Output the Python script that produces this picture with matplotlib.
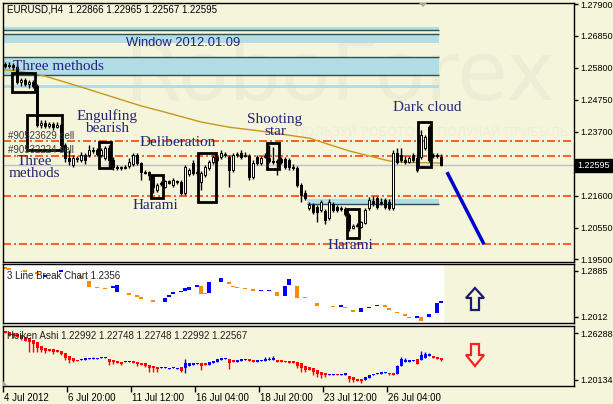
import matplotlib
matplotlib.use("Agg")
import matplotlib.pyplot as plt
import matplotlib.transforms as mtransforms
from matplotlib.patches import Rectangle, Polygon
import pandas as pd

W, H = 613, 404
BG = "#f5f5dc"
NAVY = "#23237a"
plt.rcParams['font.family'] = ['Liberation Sans', 'DejaVu Sans']

# EURUSD H4 candles
c_open = [1.2593, 1.2586, 1.2589, 1.2583, 1.2533, 1.2540, 1.2527, 1.2533, 1.2520, 1.2392,
          1.2399, 1.2389, 1.2395, 1.2385, 1.2392, 1.2326, 1.2283, 1.2260, 1.2283, 1.2277,
          1.2293, 1.2293, 1.2310, 1.2310, 1.2293, 1.2283, 1.2316, 1.2277, 1.2254, 1.2250,
          1.2254, 1.2257, 1.2264, 1.2293, 1.2267, 1.2237, 1.2237, 1.2224, 1.2178, 1.2201,
          1.2188, 1.2208, 1.2195, 1.2208, 1.2204, 1.2168, 1.2231, 1.2267, 1.2237, 1.2204,
          1.2227, 1.2250, 1.2270, 1.2277, 1.2287, 1.2297, 1.2287, 1.2244, 1.2293, 1.2300,
          1.2290, 1.2290, 1.2221, 1.2287, 1.2267, 1.2287, 1.2283, 1.2273, 1.2270, 1.2280,
          1.2280, 1.2277, 1.2254, 1.2250, 1.2195, 1.2168, 1.2119, 1.2129, 1.2122, 1.2112,
          1.2109, 1.2086, 1.2132, 1.2122, 1.2119, 1.2116, 1.2096, 1.2053, 1.2060, 1.2056,
          1.2070, 1.2119, 1.2142, 1.2152, 1.2135, 1.2145, 1.2139, 1.2119, 1.2300, 1.2293,
          1.2277, 1.2270, 1.2293, 1.2283, 1.2287, 1.2316, 1.2385, 1.2290, 1.2293, 1.22866]
c_high = [1.2599, 1.2599, 1.2596, 1.2589, 1.2547, 1.2547, 1.2540, 1.2540, 1.2527, 1.2408,
          1.2408, 1.2402, 1.2402, 1.2402, 1.2399, 1.2333, 1.2310, 1.2293, 1.2290, 1.2303,
          1.2300, 1.2326, 1.2320, 1.2316, 1.2316, 1.2323, 1.2326, 1.2287, 1.2260, 1.2257,
          1.2260, 1.2283, 1.2300, 1.2300, 1.2270, 1.2244, 1.2241, 1.2227, 1.2201, 1.2208,
          1.2211, 1.2211, 1.2218, 1.2211, 1.2211, 1.2260, 1.2250, 1.2277, 1.2244, 1.2241,
          1.2260, 1.2277, 1.2293, 1.2293, 1.2310, 1.2303, 1.2293, 1.2300, 1.2303, 1.2310,
          1.2303, 1.2297, 1.2277, 1.2293, 1.2290, 1.2300, 1.2326, 1.2320, 1.2280, 1.2287,
          1.2287, 1.2283, 1.2264, 1.2257, 1.2201, 1.2178, 1.2139, 1.2135, 1.2129, 1.2145,
          1.2116, 1.2148, 1.2139, 1.2129, 1.2125, 1.2122, 1.2102, 1.2066, 1.2070, 1.2076,
          1.2119, 1.2155, 1.2158, 1.2158, 1.2152, 1.2152, 1.2148, 1.2310, 1.2316, 1.2316,
          1.2290, 1.2290, 1.2300, 1.2297, 1.2375, 1.2359, 1.2392, 1.2300, 1.2300, 1.22965]
c_low = [1.2580, 1.2580, 1.2573, 1.2527, 1.2520, 1.2520, 1.2514, 1.2514, 1.2385, 1.2382,
         1.2382, 1.2382, 1.2375, 1.2382, 1.2320, 1.2270, 1.2260, 1.2254, 1.2270, 1.2270,
         1.2264, 1.2287, 1.2300, 1.2290, 1.2287, 1.2277, 1.2250, 1.2244, 1.2244, 1.2244,
         1.2247, 1.2250, 1.2257, 1.2260, 1.2211, 1.2231, 1.2211, 1.2168, 1.2171, 1.2192,
         1.2185, 1.2198, 1.2188, 1.2198, 1.2162, 1.2162, 1.2224, 1.2227, 1.2227, 1.2178,
         1.2221, 1.2244, 1.2264, 1.2270, 1.2280, 1.2287, 1.2188, 1.2237, 1.2287, 1.2280,
         1.2287, 1.2211, 1.2214, 1.2260, 1.2260, 1.2283, 1.2267, 1.2264, 1.2227, 1.2264,
         1.2247, 1.2244, 1.2244, 1.2188, 1.2139, 1.2145, 1.2112, 1.2099, 1.2073, 1.2106,
         1.2066, 1.2079, 1.2106, 1.2106, 1.2109, 1.2092, 1.2043, 1.2050, 1.2056, 1.2053,
         1.2066, 1.2112, 1.2125, 1.2116, 1.2129, 1.2116, 1.2112, 1.2112, 1.2264, 1.2270,
         1.2264, 1.2267, 1.2270, 1.2237, 1.2280, 1.2310, 1.2270, 1.2283, 1.2283, 1.22567]
c_close = [1.2586, 1.2589, 1.2583, 1.2533, 1.2540, 1.2527, 1.2533, 1.2520, 1.2392, 1.2399,
           1.2389, 1.2395, 1.2385, 1.2392, 1.2326, 1.2283, 1.2273, 1.2283, 1.2280, 1.2293,
           1.2277, 1.2310, 1.2306, 1.2297, 1.2310, 1.2316, 1.2277, 1.2254, 1.2250, 1.2254,
           1.2250, 1.2270, 1.2293, 1.2267, 1.2237, 1.2234, 1.2227, 1.2188, 1.2195, 1.2198,
           1.2208, 1.2201, 1.2211, 1.2204, 1.2168, 1.2254, 1.2244, 1.2234, 1.2234, 1.2234,
           1.2254, 1.2270, 1.2287, 1.2287, 1.2300, 1.2293, 1.2244, 1.2293, 1.2297, 1.2287,
           1.2293, 1.2221, 1.2267, 1.2267, 1.2283, 1.2290, 1.2273, 1.2270, 1.2273, 1.2270,
           1.2254, 1.2254, 1.2250, 1.2195, 1.2162, 1.2152, 1.2129, 1.2106, 1.2106, 1.2139,
           1.2079, 1.2139, 1.2112, 1.2112, 1.2116, 1.2099, 1.2053, 1.2060, 1.2063, 1.2073,
           1.2112, 1.2145, 1.2135, 1.2122, 1.2139, 1.2122, 1.2119, 1.2300, 1.2270, 1.2277,
           1.2270, 1.2283, 1.2277, 1.2244, 1.2359, 1.2352, 1.2277, 1.2293, 1.2290, 1.22595]
last_price = 1.22595

# moving average (bar index, value)
ma_idx = [0, 3, 10, 19, 34, 39, 49, 56, 64, 76, 86, 96, 100, 109]
ma_val = [1.2573, 1.2570, 1.2553, 1.2517, 1.2455, 1.2438, 1.2402, 1.2385, 1.2372,
          1.2349, 1.2307, 1.2274, 1.2269, 1.2267]

# horizontal levels
dd_levels = [1.2340, 1.2290, 1.2158, 1.2000]
band_x0 = [-0.5, -0.5, -0.5, -0.5, 75.5]
band_x1 = [108.5, 108.5, 108.5, 108.5, 108.5]
band_lo = [1.2703, 1.2662, 1.2557, 1.2514, 1.2132]
band_hi = [1.2714, 1.2691, 1.2616, 1.2524, 1.2148]
edge_x0 = [-0.5, -0.5, -0.5, -0.5, 75.5]
edge_lvl = [1.2703, 1.2691, 1.2616, 1.2557, 1.2132]

# pattern boxes: x0, x1 (bar index), lo, hi
box_x0 = [1.75, 5.5, 23.5, 36.6, 48.25, 65.5, 85.5, 103.25]
box_x1 = [7.5, 14.25, 26.5, 39.5, 52.75, 68.5, 88.5, 106.5]
box_lo = [1.2500, 1.2310, 1.2250, 1.2152, 1.2139, 1.2247, 1.2020, 1.2254]
box_hi = [1.2563, 1.2425, 1.2336, 1.2227, 1.2300, 1.2333, 1.2116, 1.2402]

pat_text = ["Three methods", "Engulfing\nbearish", "Deliberation", "Harami", "Shooting\nstar",
            "Dark cloud", "Three\nmethods", "Harami"]
pat_x = [13.4, 25.5, 43.25, 37.5, 67.5, 105.5, 7.25, 86.25]
pat_y = [1.2586, 1.2402, 1.2333, 1.2129, 1.2390, 1.2451, 1.2251, 1.1997]

forecast_x = [110.5, 119.75]
forecast_y = [1.2237, 1.2000]

# 3 Line Break bricks
lb_idx = [0, 1, 5, 8, 10, 14, 19, 21, 23, 25, 27, 28, 31, 33, 34, 37, 40, 41, 42, 44,
          45, 46, 48, 49, 50, 51, 54, 56, 57, 58, 60, 62, 64, 66, 68, 70, 71, 73, 75, 78,
          82, 84, 85, 87, 89, 91, 93, 95, 96, 98, 100, 101, 103, 104, 106, 108, 109]
lb_open = [1.2961, 1.2942, 1.2904, 1.2866, 1.2771, 1.2866, 1.2790, 1.2695, 1.2581, 1.2562,
           1.2562, 1.2486, 1.2467, 1.2429, 1.2391, 1.2334, 1.2296, 1.2391, 1.2448, 1.2477,
           1.2505, 1.2524, 1.2581, 1.2600, 1.2467, 1.2467, 1.2676, 1.2676, 1.2600, 1.2581,
           1.2562, 1.2543, 1.2496, 1.2496, 1.2486, 1.2410, 1.2619, 1.2600, 1.2391, 1.2277,
           1.2220, 1.2201, 1.2201, 1.2144, 1.2106, 1.2173, 1.2211, 1.2239, 1.2182, 1.2106,
           1.2068, 1.2011, 1.1992, 1.2011, 1.2011, 1.2087, 1.2277]
lb_close = [1.2923, 1.2904, 1.2866, 1.2828, 1.2809, 1.2904, 1.2752, 1.2581, 1.2553, 1.2534,
            1.2600, 1.2619, 1.2429, 1.2391, 1.2353, 1.2296, 1.2372, 1.2429, 1.2486, 1.2505,
            1.2562, 1.2581, 1.2619, 1.2448, 1.2439, 1.2676, 1.2752, 1.2638, 1.2572, 1.2553,
            1.2534, 1.2505, 1.2524, 1.2524, 1.2410, 1.2600, 1.2733, 1.2372, 1.2363, 1.2220,
            1.2192, 1.2239, 1.2173, 1.2106, 1.2182, 1.2201, 1.2239, 1.2201, 1.2144, 1.2078,
            1.2030, 1.1983, 1.2030, 1.1935, 1.2068, 1.2277, 1.2315]

# Heiken Ashi
ha_o = [1.2655, 1.2642, 1.2629, 1.2616, 1.2603, 1.2576, 1.2563, 1.2537, 1.2511, 1.2459,
        1.2432, 1.2419, 1.2419, 1.2406, 1.2393, 1.2367, 1.2328, 1.2302, 1.2275, 1.2275,
        1.2275, 1.2288, 1.2288, 1.2288, 1.2302, 1.2302, 1.2288, 1.2275, 1.2262, 1.2249,
        1.2249, 1.2249, 1.2262, 1.2249, 1.2236, 1.2236, 1.2210, 1.2197, 1.2184, 1.2171,
        1.2171, 1.2158, 1.2171, 1.2158, 1.2184, 1.2171, 1.2197, 1.2210, 1.2223, 1.2236,
        1.2236, 1.2210, 1.2236, 1.2249, 1.2275, 1.2288, 1.2288, 1.2275, 1.2249, 1.2262,
        1.2275, 1.2288, 1.2275, 1.2249, 1.2262, 1.2262, 1.2275, 1.2275, 1.2275, 1.2275,
        1.2262, 1.2262, 1.2262, 1.2249, 1.2236, 1.2197, 1.2184, 1.2171, 1.2144, 1.2118,
        1.2105, 1.2079, 1.2079, 1.2092, 1.2079, 1.2079, 1.2066, 1.2053, 1.2027, 1.2027,
        1.2013, 1.2040, 1.2079, 1.2092, 1.2092, 1.2105, 1.2105, 1.2105, 1.2092, 1.2197,
        1.2249, 1.2249, 1.2262, 1.2288, 1.2275, 1.2302, 1.2328, 1.2328, 1.2315, 1.2299]
ha_c = [1.2629, 1.2590, 1.2590, 1.2576, 1.2563, 1.2524, 1.2511, 1.2485, 1.2432, 1.2406,
        1.2393, 1.2393, 1.2380, 1.2380, 1.2354, 1.2302, 1.2275, 1.2262, 1.2262, 1.2288,
        1.2302, 1.2302, 1.2302, 1.2302, 1.2315, 1.2315, 1.2249, 1.2249, 1.2236, 1.2223,
        1.2262, 1.2262, 1.2236, 1.2223, 1.2210, 1.2197, 1.2171, 1.2171, 1.2158, 1.2184,
        1.2184, 1.2171, 1.2184, 1.2171, 1.2131, 1.2236, 1.2236, 1.2236, 1.2236, 1.2197,
        1.2210, 1.2249, 1.2262, 1.2288, 1.2302, 1.2302, 1.2236, 1.2249, 1.2275, 1.2288,
        1.2288, 1.2262, 1.2249, 1.2275, 1.2275, 1.2288, 1.2288, 1.2302, 1.2249, 1.2249,
        1.2249, 1.2236, 1.2236, 1.2197, 1.2171, 1.2144, 1.2144, 1.2118, 1.2092, 1.2079,
        1.2079, 1.2092, 1.2092, 1.2079, 1.2092, 1.2105, 1.2027, 1.2013, 1.2000, 1.2000,
        1.2053, 1.2079, 1.2092, 1.2105, 1.2118, 1.2118, 1.2092, 1.2079, 1.2197, 1.2288,
        1.2275, 1.2275, 1.2275, 1.2223, 1.2341, 1.2354, 1.2354, 1.2302, 1.2288, 1.2275]
ha_h = [1.2655, 1.2642, 1.2629, 1.2616, 1.2603, 1.2576, 1.2563, 1.2537, 1.2511, 1.2459,
        1.2432, 1.2419, 1.2419, 1.2406, 1.2393, 1.2367, 1.2328, 1.2302, 1.2275, 1.2288,
        1.2302, 1.2302, 1.2315, 1.2302, 1.2315, 1.2315, 1.2288, 1.2275, 1.2262, 1.2249,
        1.2262, 1.2262, 1.2262, 1.2249, 1.2236, 1.2236, 1.2210, 1.2197, 1.2184, 1.2184,
        1.2184, 1.2171, 1.2184, 1.2171, 1.2184, 1.2288, 1.2236, 1.2236, 1.2236, 1.2236,
        1.2236, 1.2249, 1.2262, 1.2288, 1.2302, 1.2302, 1.2288, 1.2275, 1.2275, 1.2288,
        1.2288, 1.2288, 1.2275, 1.2275, 1.2275, 1.2315, 1.2315, 1.2328, 1.2275, 1.2275,
        1.2262, 1.2262, 1.2262, 1.2249, 1.2236, 1.2197, 1.2184, 1.2171, 1.2144, 1.2118,
        1.2105, 1.2092, 1.2092, 1.2092, 1.2092, 1.2105, 1.2066, 1.2053, 1.2027, 1.2027,
        1.2053, 1.2079, 1.2092, 1.2105, 1.2118, 1.2118, 1.2105, 1.2105, 1.2210, 1.2315,
        1.2302, 1.2275, 1.2275, 1.2288, 1.2393, 1.2380, 1.2367, 1.2328, 1.2315, 1.2299]
ha_l = [1.2629, 1.2590, 1.2563, 1.2576, 1.2537, 1.2524, 1.2380, 1.2380, 1.2380, 1.2380,
        1.2367, 1.2393, 1.2354, 1.2380, 1.2341, 1.2275, 1.2236, 1.2249, 1.2262, 1.2275,
        1.2275, 1.2288, 1.2288, 1.2288, 1.2302, 1.2302, 1.2210, 1.2223, 1.2236, 1.2210,
        1.2249, 1.2249, 1.2236, 1.2197, 1.2210, 1.2184, 1.2118, 1.2118, 1.2118, 1.2171,
        1.2171, 1.2158, 1.2171, 1.2158, 1.2118, 1.2105, 1.2197, 1.2210, 1.2223, 1.2144,
        1.2210, 1.2210, 1.2236, 1.2249, 1.2275, 1.2288, 1.2158, 1.2249, 1.2249, 1.2262,
        1.2275, 1.2262, 1.2249, 1.2249, 1.2262, 1.2262, 1.2275, 1.2275, 1.2249, 1.2249,
        1.2249, 1.2236, 1.2236, 1.2171, 1.2118, 1.2118, 1.2144, 1.2079, 1.2053, 1.2040,
        1.2053, 1.2079, 1.2079, 1.2079, 1.2079, 1.2079, 1.1987, 1.1987, 1.2000, 1.1974,
        1.2013, 1.2040, 1.2079, 1.2092, 1.2092, 1.2105, 1.2079, 1.2079, 1.2092, 1.2197,
        1.2249, 1.2249, 1.2262, 1.2223, 1.2275, 1.2302, 1.2328, 1.2302, 1.2288, 1.2257]

price_ticks = [1.27900, 1.26850, 1.25800, 1.24750, 1.23700, 1.21600, 1.20550, 1.19500]

n = len(c_open)
idx = list(range(n))
times = pd.date_range("2012-07-04 04:00", periods=200, freq="4h")
times = times[times.dayofweek < 5][:n]
xt_idx = [0, 16, 32, 48, 64, 80, 96]
xt_lab = ["4 Jul 2012"] + [f"{t.day} {t:%b %H:%M}" for t in times[xt_idx[1:]]]

fig = plt.figure(figsize=(W / 100, H / 100), dpi=100, facecolor=BG)


def px_axes(x0, y0, x1, y1):
    return fig.add_axes([x0 / W, 1 - y1 / H, (x1 - x0) / W, (y1 - y0) / H])


ax = px_axes(3, 3, 574, 262)
ax_lb = px_axes(3, 264, 574, 323)
ax_ha = px_axes(3, 326, 574, 386)

for a in (ax, ax_lb, ax_ha):
    a.set_facecolor(BG)
    a.set_xlim(-0.5, 142.25)
    a.yaxis.tick_right()
    a.tick_params(axis='y', direction='out', length=3, width=1, pad=1.5, labelsize=6.5)
    for s in a.spines.values():
        s.set_color('black')
        s.set_linewidth(1)

ax.set_ylim(1.19417, 1.27933)
ax_lb.set_ylim(1.1897, 1.3018)
ax_ha.set_ylim(1.19348, 1.27205)

# ---- main chart ----
ax.text(340 / W, 1 - 100 / H, "RoboForex", transform=fig.transFigure, fontsize=59,
        family=['DejaVu Sans'], color='#ededd6', ha='center', va='baseline', zorder=0.5)
ax.text(295 / W, 1 - 133 / H, "ПОЛЬЗУЙ РОБОТОВ – ПОЛУЧАЙ ПРИБЫЛЬ", transform=fig.transFigure,
        fontsize=9, family=['DejaVu Sans'], color='#eeeed8', ha='left', va='center', zorder=0.5)

for x0, x1, lo, hi in zip(band_x0, band_x1, band_lo, band_hi):
    ax.add_patch(Rectangle((x0, lo), x1 - x0, hi - lo, facecolor='#b0dde6', edgecolor='none', zorder=1))
for x0, lv in zip(edge_x0, edge_lvl):
    ax.hlines(lv, x0, 108.5, color='#2f4f4f', lw=1, zorder=1.2)

for lv in dd_levels:
    ax.axhline(lv, color='#ff4500', lw=1.2, ls=(0, (4.8, 1.8, 1.2, 1.8)), zorder=1.5)
ax.axhline(last_price, color='#c0c0c0', lw=1, zorder=1.4)

ax.plot(ma_idx, ma_val, color='#c8961e', lw=1, zorder=2)

ax.vlines(idx, c_low, c_high, color='black', lw=1, zorder=3)
bot = [min(o, c) for o, c in zip(c_open, c_close)]
hgt = [max(abs(c - o), 0.00012) for o, c in zip(c_open, c_close)]
fcol = ['white' if c >= o else 'black' for o, c in zip(c_open, c_close)]
ax.bar(idx, hgt, bottom=bot, width=0.7, color=fcol, edgecolor='black', linewidth=0.7, zorder=3.2)

for x0, x1, lo, hi in zip(box_x0, box_x1, box_lo, box_hi):
    ax.add_patch(Rectangle((x0, lo), x1 - x0, hi - lo, fill=False, edgecolor='black', lw=2, zorder=4))

for t, x, y in zip(pat_text, pat_x, pat_y):
    ax.text(x, y, t, family=['Liberation Serif'], fontsize=11, color=NAVY, ha='center',
            va='center', linespacing=0.9, zorder=5)
ax.text(44.5, 1.2662, "Window 2012.01.09", fontsize=9.3, color=NAVY, ha='center', va='center', zorder=5)
ax.text(0.75, 1.2356, "#90523629 sell", fontsize=7, color='#3a3a3a', ha='left', va='center', zorder=5)
ax.text(0.75, 1.2310, "#90532224 sell", fontsize=7, color='#3a3a3a', ha='left', va='center', zorder=5)

ax.plot(forecast_x, forecast_y, color='#0000cd', lw=2.5, zorder=4, solid_capstyle='butt')

ax.set_yticks(price_ticks)
ax.set_yticklabels([f"{v:.5f}" for v in price_ticks])
ax.tick_params(axis='x', bottom=False, labelbottom=False)
tr = mtransforms.blended_transform_factory(ax.transAxes, ax.transData)
ax.text(1.006, last_price, f"{last_price:.5f}", transform=tr, fontsize=6.5, color='white',
        ha='left', va='center', bbox=dict(facecolor='black', edgecolor='black', pad=1.4))

# ---- 3 line break ----
ax_lb.axvspan(-0.5, 109.5, color='white', zorder=0.5)
lb_bot = [min(o, c) for o, c in zip(lb_open, lb_close)]
lb_h = [abs(c - o) for o, c in zip(lb_open, lb_close)]
lb_col = ['#0000ff' if c > o else '#ff8c00' for o, c in zip(lb_open, lb_close)]
ax_lb.bar(lb_idx, lb_h, bottom=lb_bot, width=0.95, color=lb_col, lw=0, zorder=2)
ax_lb.set_yticks([1.2885, 1.2012])
ax_lb.set_yticklabels(["1.2885", "1.2012"])
ax_lb.tick_params(axis='x', bottom=False, labelbottom=False)
ax_lb.text(0.007, 0.8, "3 Line Break Chart 1.2356", transform=ax_lb.transAxes, fontsize=7,
           color='#202020', ha='left', va='center', zorder=5)

# ---- heiken ashi ----
ha_col = ['#0000ff' if c >= o else '#ff0000' for o, c in zip(ha_o, ha_c)]
ax_ha.vlines(idx, ha_l, ha_h, colors=ha_col, lw=1, zorder=2)
ha_bot = [min(o, c) for o, c in zip(ha_o, ha_c)]
ha_hgt = [max(abs(c - o), 0.0008) for o, c in zip(ha_o, ha_c)]
ax_ha.bar(idx, ha_hgt, bottom=ha_bot, width=0.75, color=ha_col, lw=0, zorder=2)
ax_ha.set_yticks([1.26288, 1.20134])
ax_ha.set_yticklabels(["1.26288", "1.20134"])
ax_ha.text(0.007, 0.83, "Heiken Ashi 1.22992 1.22748 1.22748 1.22992 1.22567",
           transform=ax_ha.transAxes, fontsize=7, color='#202020', ha='left', va='center', zorder=5)
ax_ha.set_xticks([i - 0.5 for i in xt_idx])
ax_ha.set_xticklabels(xt_lab)
ax_ha.tick_params(axis='x', direction='out', length=4, width=1, pad=1, labelsize=7)
off = mtransforms.ScaledTranslation(1 / 100, 0, fig.dpi_scale_trans)
for lbl in ax_ha.get_xticklabels():
    lbl.set_horizontalalignment('left')
    lbl.set_transform(lbl.get_transform() + off)

# ---- figure-level decorations ----
fig.text(7 / W, 1 - 10 / H, "EURUSD,H4  1.22866 1.22965 1.22567 1.22595", fontsize=7,
         color='black', ha='left', va='center')


def pxpoly(pts, **kw):
    fig.patches.append(Polygon([(x / W, 1 - y / H) for x, y in pts], closed=True,
                               transform=fig.transFigure, figure=fig, **kw))


pxpoly([(475, 288), (484, 298), (479, 298), (479, 310), (471, 310), (471, 298), (466, 298)],
       facecolor=BG, edgecolor='#1c1c6e', lw=1.6, zorder=6)
pxpoly([(475, 366), (484, 355), (479, 355), (479, 344), (471, 344), (471, 355), (466, 355)],
       facecolor=BG, edgecolor='#ff2020', lw=1.6, zorder=6)
pxpoly([(419, 3), (427, 3), (423, 7)], facecolor='#a8a8a8', edgecolor='none', zorder=6)
pxpoly([(3, 386), (8, 386), (3, 381)], facecolor='#a8a8a8', edgecolor='none', zorder=6)

fig.savefig("out.png", dpi=100, facecolor=BG)
